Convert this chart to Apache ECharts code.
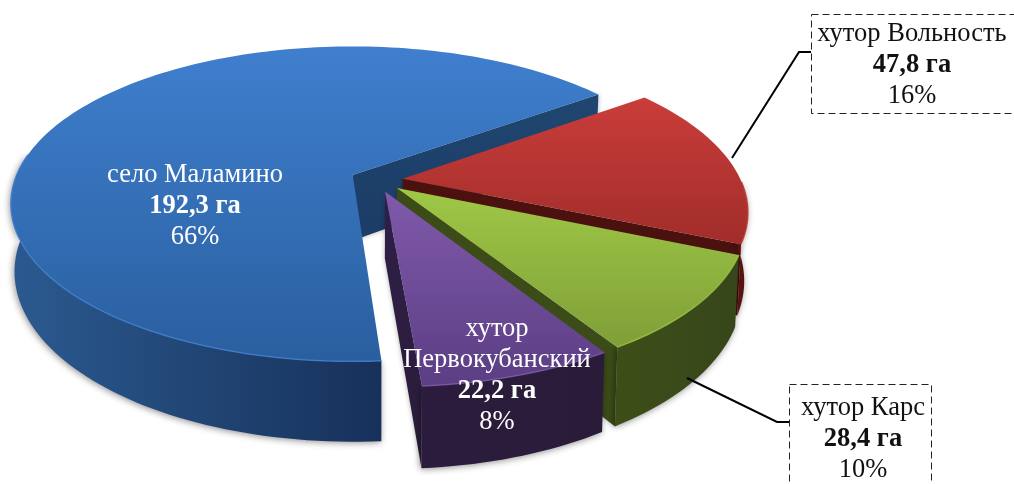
<!DOCTYPE html>
<html><head><meta charset="utf-8">
<style>html,body{margin:0;padding:0;background:#fff}#c{width:1014px;height:484px}</style>
<script src="https://cdn.jsdelivr.net/npm/echarts@6/dist/echarts.min.js"></script>
</head><body><div id="c"></div>
<script>
// data
const names = ['село Маламино', 'хутор Вольность', 'хутор Карс', 'хутор Первокубанский'];
const areas = [192.3, 47.8, 28.4, 22.2];
const shares = [66, 16, 10, 8];
const unit = 'га';

// styles per slice
const topColors = [['#3f7fce','#2a5f9f'],['#c93d3a','#a12d2a'],['#9fc846','#7f9f38'],['#8059ab','#5b3e83']];
const rimColors = ['#3f80cc','#c43d39','#9cc444','#7e58a8'];
const wallColors = [['#2b5a90','#17315a'],['#661613','#4a100d'],['#3d4e18','#37461a'],['#2b1c3e','#2a1c38']];
const edgeColors = [['#20466f','#1b3c66'],['#4a110e','#4a110e'],['#3c4c18','#3c4c18'],['#2f1f48','#2a1c3a']];

// projection (3D pie layout)
const P = {cx:376.5, cy:180, rx:338, ry:154, k:0.185, shear:4.5, depth:66, shrink:0.99, explode:0.078, start:274};
const total = areas.reduce((a,b)=>a+b,0);
const rad = d => d*Math.PI/180;
function proj(u,v){const w=1-P.k*v; return [P.cx+(P.rx*u+P.shear*v)/w, P.cy+P.ry*v/w];}
function low(u,v){const w=1-P.k*v; const t=proj(u,v); return [P.cx+(t[0]-P.cx)*P.shrink, t[1]+P.depth/w];}

function renderSlice(params, api){
  const i = params.dataIndex, val = api.value(0);
  let before = 0; for(let j=0;j<i;j++) before += areas[j];
  const a0 = P.start - before/total*360, a1 = a0 - val/total*360, mid=(a0+a1)/2;
  const ox = P.explode*Math.cos(rad(mid)), oy = -P.explode*Math.sin(rad(mid));
  const pt = a => [ox+Math.cos(rad(a)), oy-Math.sin(rad(a))];
  const arc = [], n = Math.max(8, Math.ceil((a0-a1)/1.5));
  for(let s=0;s<=n;s++) arc.push(a0+(a1-a0)*s/n);
  const apexTop = proj(ox,oy), apexLow = low(ox,oy);
  const children = [];
  const grad = c => new echarts.graphic.LinearGradient(0,0,0,1,[{offset:0,color:c[0]},{offset:1,color:c[1]}]);
  const hgrad = c => new echarts.graphic.LinearGradient(0,0,1,0,[{offset:0,color:c[0]},{offset:1,color:c[1]}]);
  const midTop = proj.apply(null,[ox+0.5*Math.cos(rad(mid)), oy-0.5*Math.sin(rad(mid))]);
  // radial walls, only those facing the viewer
  [a0,a1].forEach(a=>{
    const q = pt(a), e = proj(q[0],q[1]), el = low(q[0],q[1]);
    const dx=e[0]-apexTop[0], dy=e[1]-apexTop[1];
    const sideM = dx*(midTop[1]-apexTop[1])-dy*(midTop[0]-apexTop[0]);
    const sideD = dx;
    if(sideM*sideD<0) children.push({type:'polygon',shape:{points:[apexTop,e,el,apexLow]},
      style:{fill:grad(edgeColors[i]),shadowBlur:5,shadowColor:'rgba(0,0,0,0.3)'}});
  });
  // outer wall
  const front = arc.filter(a=>{const m=((a%360)+360)%360; return m>=172;});
  if(front.length>1){
    const up = front.map(a=>{const q=pt(a);return proj(q[0],q[1]);});
    const dn = front.map(a=>{const q=pt(a);return low(q[0],q[1]);}).reverse();
    children.push({type:'polygon',shape:{points:up.concat(dn)},
      style:{fill:hgrad(wallColors[i]),shadowBlur:7,shadowOffsetX:-1,shadowOffsetY:1,shadowColor:'rgba(0,0,0,0.45)'}});
  }
  // top face
  const rimPts = arc.map(a=>{const q=pt(a);return proj(q[0],q[1]);});
  children.push({type:'polygon',shape:{points:[apexTop].concat(rimPts)},style:{fill:grad(topColors[i])}});
  if(front.length>1){
    children.push({type:'polyline',shape:{points:front.map(a=>{const q=pt(a);return proj(q[0],q[1]);})},
      style:{stroke:rimColors[i],lineWidth:1.5,fill:null,opacity:0.8}});
  }
  return {type:'group',children};
}

const fmtArea = v => v.toFixed(1).replace('.',',')+' '+unit;
const F = 'Liberation Serif, Times New Roman, serif';
function label(i,x,y,color,nameLines){
  const lines = (nameLines||[names[i]]).map(s=>'{n|'+s+'}');
  lines.push('{b|'+fmtArea(areas[i])+'}');
  lines.push('{n|'+shares[i]+'%}');
  return {type:'text',z:20,x,y,style:{
    text:lines.join('\n'),align:'center',verticalAlign:'top',fill:color,
    rich:{n:{fontFamily:F,fontSize:26.5,lineHeight:30.8,fill:color,align:'center'},
          b:{fontFamily:F,fontSize:26.5,fontWeight:'bold',lineHeight:30.8,fill:color,align:'center'}}
  }};
}
function box(x,y,w,h){return {type:'rect',z:10,shape:{x,y,width:w,height:h},
  style:{fill:'#fff',stroke:'#222',lineWidth:1,lineDash:[7,4]}};}
function leader(pts){return {type:'polyline',z:9,shape:{points:pts},style:{stroke:'#000',lineWidth:2,fill:null}};}

const chart = echarts.init(document.getElementById('c'),null,{renderer:'canvas'});
chart.setOption({
  animation:false,
  backgroundColor:'#fff',
  series:[{type:'custom',coordinateSystem:'none',renderItem:renderSlice,
    data:areas.map(v=>[v]),silent:true,clip:false}],
  graphic:{elements:[
    leader([[732,158],[799,52],[811,52]]),
    leader([[687,378],[777,422],[790,422]]),
    box(811.5,14.5,210,99),
    box(789.5,384.5,142,110),
    label(0,195,160,'#fff'),
    label(1,912,19,'#111'),
    label(2,863,393,'#111'),
    label(3,497,314,'#fff',['хутор','Первокубанский'])
  ]}
});
</script></body></html>
